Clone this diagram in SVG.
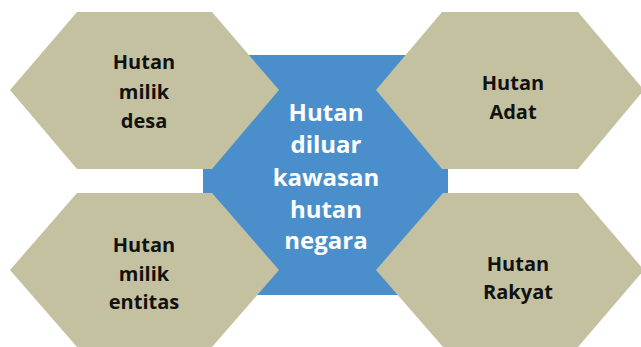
<svg xmlns="http://www.w3.org/2000/svg" width="641" height="347" viewBox="0 0 641 347">
<style>
.hex{fill:#C4C1A0;}
.t{font-family:"Open Sans","Liberation Sans",sans-serif;font-weight:bold;font-size:20px;fill:#111;text-anchor:middle;}
.c{font-family:"Open Sans","Liberation Sans",sans-serif;font-weight:bold;font-size:24px;fill:#fff;text-anchor:middle;}
</style>
<rect width="641" height="347" fill="#fff"/>
<g id="center">
<rect x="203" y="55" width="245" height="240" fill="#4A8FCB"/>
</g>
<g id="hutan-milik-desa">
<polygon class="hex" points="77,12 212,12 279,90 212,169 77,169 10,90"/>
<text class="t" x="144" y="69">Hutan</text>
<text class="t" x="144" y="99">milik</text>
<text class="t" x="144" y="128">desa</text>
</g>
<g id="hutan-adat">
<polygon class="hex" points="442,12 578,12 644,90 578,169 442,169 376,90"/>
<text class="t" x="513" y="90">Hutan</text>
<text class="t" x="513" y="119">Adat</text>
</g>
<g id="hutan-milik-entitas">
<polygon class="hex" points="77,193 212,193 279,270 212,347 77,347 10,270"/>
<text class="t" x="144" y="252">Hutan</text>
<text class="t" x="144" y="281">milik</text>
<text class="t" x="144" y="309">entitas</text>
</g>
<g id="hutan-rakyat">
<polygon class="hex" points="443,193 578,193 644,270 578,347 443,347 376,270"/>
<text class="t" x="518" y="271">Hutan</text>
<text class="t" x="518" y="299">Rakyat</text>
</g>
<g id="center-label">
<text class="c" x="326" y="121">Hutan</text>
<text class="c" x="326" y="153">diluar</text>
<text class="c" x="326" y="186">kawasan</text>
<text class="c" x="326" y="218">hutan</text>
<text class="c" x="326" y="249">negara</text>
</g>
<g id="connectors"></g>
</svg>
